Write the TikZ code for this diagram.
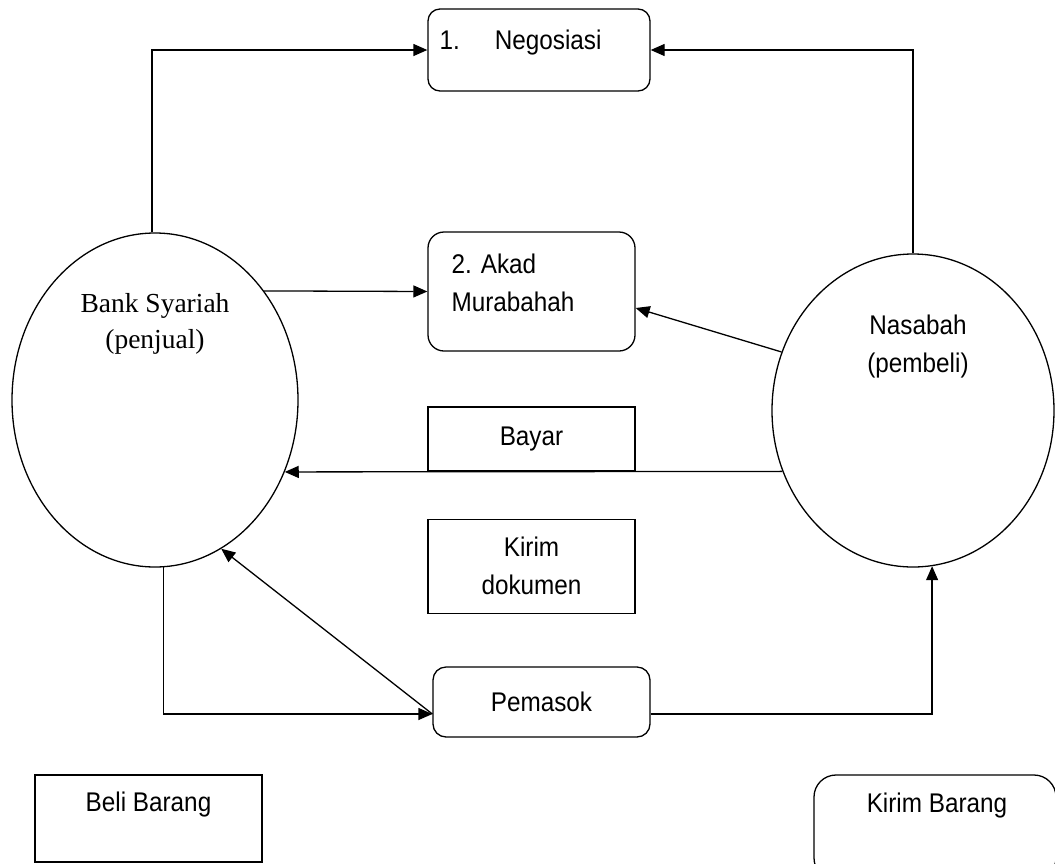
\documentclass[tikz,border=0pt]{standalone}
\usepackage{fontspec}
\usepackage{tikz}
\usetikzlibrary{positioning,calc,arrows.meta,shapes.geometric}
\newfontfamily\dfdsans[FakeStretch=0.9]{Liberation Sans}
\newfontfamily\dfdserif{Liberation Serif}
\tikzset{
  dfdfont/.style={font=\dfdsans\fontsize{27}{38}\selectfont},
  bankfont/.style={font=\dfdserif\fontsize{27.5}{36}\selectfont},
  dfdbox/.style={draw, line width=1.3pt, inner sep=0pt, align=center},
  dfdround/.style={dfdbox, rounded corners=13pt},
  dfdellipse/.style={draw, ellipse, line width=1.3pt, inner sep=0pt},
  dfdarrow/.style={-{Triangle[length=14pt,width=12pt]}, line width=1.3pt},
}

\begin{document}
\begin{tikzpicture}[x=1pt, y=-1pt, dfdfont]
	\useasboundingbox (0,0) rectangle (1055,863);
			% Parties
			\node[dfdellipse, minimum width=286pt, minimum height=334pt] (bank) at (155,400) {};
			\node[dfdellipse, minimum width=282pt, minimum height=313pt] (nas) at (913,410.5) {};
			\node[bankfont, align=center, inner sep=0pt] (banktxt) at ([yshift=76pt]bank.center) {Bank Syariah\\(penjual)};
			\node[align=center, inner sep=0pt] (nastxt) at ([xshift=5pt,yshift=64pt]nas.center) {Nasabah\\(pembeli)};

			% Steps
			\node[dfdround, rounded corners=12pt, minimum width=222pt, minimum height=82pt] (nego) at (539,50) {};
			\node[anchor=base west, inner sep=0pt] (negotxt) at ([xshift=12pt,yshift=-41pt]nego.north west) {1.\hspace{35pt}Negosiasi};
			\node[dfdround, rounded corners=16pt, minimum width=207pt, minimum height=119pt] (akad) at (531.5,291.5) {};
			\node[align=left, anchor=north west, inner sep=0pt] (akadtxt) at ([xshift=24pt,yshift=-22pt]akad.north west) {2. Akad\\Murabahah};
			\node[dfdbox, minimum width=207pt, minimum height=64pt] (bayar) at (531.5,439) {Bayar};
			\node[dfdbox, minimum width=207pt, minimum height=94pt, below=47pt of bayar] (kirdok) {Kirim\\dokumen};
			\node[dfdround, minimum width=217pt, minimum height=70pt] (pem) at (541.5,702) {Pemasok};
			\coordinate (pemin) at ([yshift=-12pt]pem.west);
			\coordinate (pemout) at ([yshift=-12pt]pem.east);

			% Bottom boxes
			\node[dfdbox, minimum width=227pt, minimum height=87pt] (beli) at (148.5,818.5) {};
			\node[anchor=base, inner sep=0pt] (belitxt) at ([yshift=-37pt]beli.north) {Beli Barang};
			\node[dfdround, rounded corners=22pt, minimum width=242pt, minimum height=105pt] (kirbar) at (935,827.5) {};
			\node[anchor=base, inner sep=0pt] (kirbartxt) at ([xshift=2pt,yshift=-38pt]kirbar.north) {Kirim Barang};

		% Flows
			\draw[dfdarrow] (bank.91) |- (nego.west);
			\draw[dfdarrow] (nas.north) |- (nego.east);
			\draw[dfdarrow] (bank.45) -- (akad.west);
			\draw[dfdarrow] (nas.156) -- (akad.-9);
			\draw[dfdarrow] (nas.205) -- (bank.-29);
			\draw[dfdarrow] (bank.-87) |- (pemin);
			\draw[dfdarrow] (pemin) -- (bank.-66);
			\draw[dfdarrow] (pemout) -| (nas.-83);
		\end{tikzpicture}
\end{document}
